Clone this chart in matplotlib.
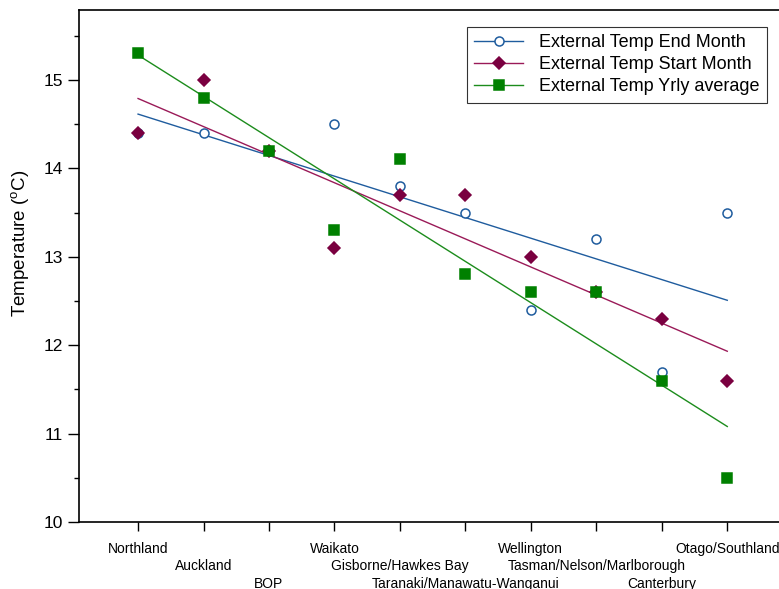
import numpy as np
import matplotlib
matplotlib.use("Agg")
import matplotlib.pyplot as plt

plt.rcParams['font.family'] = ['Liberation Sans', 'DejaVu Sans']
plt.rcParams['mathtext.fontset'] = 'custom'
plt.rcParams['mathtext.rm'] = 'Liberation Sans'

# Regions (x axis categories)
regions = ['Northland', 'Auckland', 'BOP', 'Waikato', 'Gisborne/Hawkes Bay',
           'Taranaki/Manawatu-Wanganui', 'Wellington', 'Tasman/Nelson/Marlborough',
           'Canterbury', 'Otago/Southland']

# Temperatures (oC)
end_month = [14.4, 14.4, 14.2, 14.5, 13.8, 13.5, 12.4, 13.2, 11.7, 13.5]
start_month = [14.4, 15.0, 14.2, 13.1, 13.7, 13.7, 13.0, 12.6, 12.3, 11.6]
yrly_avg = [15.3, 14.8, 14.2, 13.3, 14.1, 12.8, 12.6, 12.6, 11.6, 10.5]

series = [
    ('External Temp End Month', end_month, 'o', 'white', '#1f5c9e', '#1f5c9e', 6.5),
    ('External Temp Start Month', start_month, 'D', '#7a0040', '#7a0040', '#9a1a58', 6),
    ('External Temp Yrly average', yrly_avg, 's', '#008000', '#008000', '#1c8c1c', 7),
]

fig = plt.figure(figsize=(7.79, 5.89), dpi=100)
ax = fig.add_axes([79/779, 67/589, 1 - 79/779, (522-10)/589])

x = np.arange(1, len(regions) + 1)

for name, vals, mk, fc, ec, lc, ms in series:
    vals = np.array(vals)
    # least squares trend line
    k, b = np.polyfit(x, vals, 1)
    ax.plot(x, vals, linestyle='none', marker=mk, markersize=ms,
            markerfacecolor=fc, markeredgecolor=ec, markeredgewidth=1.1, zorder=3)
    ax.plot([x[0], x[-1]], [k*x[0] + b, k*x[-1] + b], color=lc, lw=1.0, zorder=2)
    # legend handle: line with marker in the middle
    ax.plot([], [], color=lc, lw=1.0, marker=mk, markersize=ms,
            markerfacecolor=fc, markeredgecolor=ec, markeredgewidth=1.1, label=name)

ax.set_xlim(0.098, 10.79)
ax.set_ylim(10, 15.79)
ax.set_yticks([10, 11, 12, 13, 14, 15])
ax.set_yticks(np.arange(10.5, 15.6, 1.0), minor=True)
ax.tick_params(axis='y', which='major', direction='out', length=7.7, width=1, labelsize=12.5, pad=4)
ax.tick_params(axis='y', which='minor', direction='out', length=3.6, width=1)

ax.set_xticks(x)
stag = [regions[i] if i % 3 == 0 else ('\n' + regions[i] if i % 3 == 1 else '\n\n' + regions[i])
        for i in range(len(regions))]
ax.set_xticklabels(stag, fontsize=10, va='top')
for lab in ax.get_xticklabels():
    lab.set_linespacing(1.3)
ax.tick_params(axis='x', direction='out', length=6.5, width=1, pad=8)

ax.spines['right'].set_visible(False)
for s in ['left', 'top', 'bottom']:
    ax.spines[s].set_linewidth(1.2)

ax.set_ylabel('Temperature ($\\rm ^{o}$C)', fontsize=13.5)
ax.yaxis.set_label_coords(-0.069, 0.545)

leg = ax.legend(loc='upper right', bbox_to_anchor=(767/779, 1 - 27/589), bbox_transform=fig.transFigure,
                fontsize=13, frameon=True, fancybox=False, handlelength=2.7,
                borderpad=0.4, labelspacing=0.28, handletextpad=0.9, borderaxespad=0)
leg.get_frame().set_edgecolor('black')
leg.get_frame().set_linewidth(0.8)

fig.savefig('out.png', dpi=100)
